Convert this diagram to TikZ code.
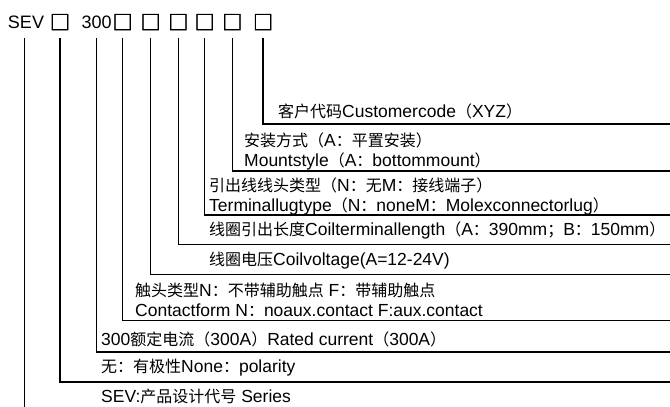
\documentclass[tikz,border=0pt]{standalone}
\usepackage{fontspec}
\setmainfont{Liberation Sans}
\newfontfamily\cjkfont{Noto Sans CJK SC}
\newfontfamily\sqfont{Noto Sans CJK SC}[FakeBold=2.5]
\newcommand\zh[1]{{\cjkfont\fontsize{16}{18}\selectfont #1}}
\tikzset{
  lbl/.style={anchor=base west, inner sep=0pt, font=\fontsize{17.5}{20}\selectfont},
  topitem/.style={inner sep=0pt, minimum height=32pt, font=\fontsize{18}{20}\selectfont},
  sqitem/.style={inner sep=0pt, minimum height=32pt, font=\sqfont\fontsize{20}{22}\selectfont},
  wire/.style={line width=1.4pt, black}
}
\begin{document}
\begin{tikzpicture}[x=1pt,y=-1pt]
\useasboundingbox (0,0) rectangle (670,407);
% top row
\node[topitem] (t0) at (26,22) {SEV};
\node[sqitem] (t1) at (60,22) {□};
\node[topitem] (t2) at (96.7,22) {300};
\node[sqitem] (t3) at (122.7,22) {□};
\node[sqitem] (t4) at (150.7,22) {□};
\node[sqitem] (t5) at (178.3,22) {□};
\node[sqitem] (t6) at (204.7,22) {□};
\node[sqitem] (t7) at (232.3,22) {□};
\node[sqitem] (t8) at (263,22) {□};
% right ends of the rows
\coordinate (e0) at (24.3,407);
\coordinate (e1) at (670,382);
\coordinate (e2) at (670,352);
\coordinate (e3) at (670,320.7);
\coordinate (e4) at (670,274.3);
\coordinate (e5) at (670,244.3);
\coordinate (e6) at (670,215);
\coordinate (e7) at (670,171);
\coordinate (e8) at (670,124);
% connectors
\draw[wire] (t0.south -| e0) -- (e0);
\draw[wire] (t1.south) |- (e1);
\draw[wire] (t2.south) |- (e2);
\draw[wire] (t3.south) |- (e3);
\draw[wire] (t4.south) |- (e4);
\draw[wire] (t5.south) |- (e5);
\draw[wire] (t6.south) |- (e6);
\draw[wire] (t7.south) |- (e7);
\draw[wire] (t8.south) |- (e8);
% labels
\node[lbl] (l8) at (278,117.5) {\zh{客户代码}Customercode\zh{（}XYZ\zh{）}};
\node[lbl] (l7a) at (244,146) {\zh{安装方式（}A\zh{：平置安装）}};
\node[lbl] (l7b) at (244,166.5) {Mountstyle\zh{（}A\zh{：}bottommount\zh{）}};
\node[lbl] (l6a) at (209,191.5) {\zh{引出线线头类型（}N\zh{：无}M\zh{：接线端子）}};
\node[lbl] (l6b) at (209,211) {Terminallugtype\zh{（}N\zh{：}noneM\zh{：}Molexconnectorlug\zh{）}};
\node[lbl] (l5) at (209,235) {\zh{线圈引出长度}Coilterminallength\zh{（}A\zh{：}390mm\zh{；}B\zh{：}150mm\zh{）}};
\node[lbl] (l4) at (209,265) {\zh{线圈电压}Coilvoltage(A=12-24V)};
\node[lbl] (l3a) at (135,296.5) {\zh{触头类型}N\zh{：不带辅助触点} F\zh{：带辅助触点}};
\node[lbl] (l3b) at (135,316.5) {Contactform N\zh{：}noaux.contact F:aux.contact};
\node[lbl] (l2) at (101,345) {300\zh{额定电流（}300A\zh{）}Rated current\zh{（}300A\zh{）}};
\node[lbl] (l1) at (101,372.5) {\zh{无：有极性}None\zh{：}polarity};
\node[lbl] (l0) at (101,402.5) {SEV:\zh{产品设计代号} Series};
\end{tikzpicture}
\end{document}
